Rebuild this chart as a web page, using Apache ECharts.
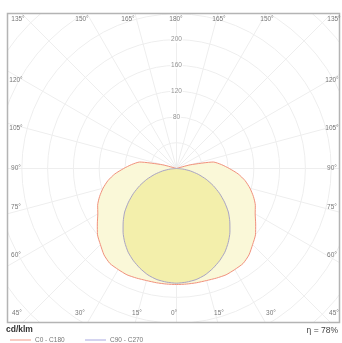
<!DOCTYPE html>
<html>
<head>
<meta charset="utf-8">
<script src="https://cdn.jsdelivr.net/npm/echarts@6/dist/echarts.min.js"></script>
<style>
  html, body { margin: 0; padding: 0; background: #fff; }
  #chart { width: 342px; height: 343px; }
</style>
</head>
<body>
<div id="chart"></div>
<script>
// gamma angles (deg) and intensities (cd/klm)
const gammaC0 = [0, 5, 10, 15, 20, 25, 30, 35, 40, 45, 50, 55, 60, 65, 70, 75, 80, 85, 90, 95, 100, 105, 110];
const c0c180 = [180, 180, 180, 180, 181, 182, 181, 180, 175, 167, 160, 150, 141, 135, 127, 118, 108, 96, 82, 70, 58, 22, 0];
const gammaC90 = [0, 5, 10, 15, 20, 25, 30, 35, 40, 45, 50, 55, 60, 65, 70, 75, 80, 85, 90];
const c90c270 = [178, 177, 175, 171, 165, 158, 150, 140, 129, 117, 105, 91, 77, 63, 49, 35, 22, 10, 0];
const ringLabels = [80, 120, 160, 200];
const angleLabelsTop = [135, 150, 165, 180, 165, 150, 135];
const angleLabelsSide = [120, 105, 90, 75, 60];
const angleLabelsBottom = [45, 30, 15, 0, 15, 30, 45];
const eta = 78;

// layout
const box = { x: 7.5, y: 13.5, w: 332, h: 309 };
const topX = [18, 82, 128, 176, 219, 267, 334];
const sideY = [80, 128, 168, 207, 255];
const bottomX = [17, 80, 137, 174, 219, 271, 334];

// left half (positive angle) then right half (negative angle)
function loop(gam, val) {
  const left = gam.map((g, i) => [val[i], g]).reverse();
  const right = gam.map((g, i) => [val[i], -g]);
  return left.concat(right.slice(1));
}

const lblStyle = { fill: '#777', fontSize: 6.5, fontFamily: 'Liberation Sans, Arial', align: 'center', verticalAlign: 'middle' };
const graphics = [
  { type: 'rect', shape: { x: 0, y: 0, width: 342, height: box.y }, style: { fill: '#fff' }, z: 50 },
  { type: 'rect', shape: { x: 0, y: 0, width: box.x, height: 343 }, style: { fill: '#fff' }, z: 50 },
  { type: 'rect', shape: { x: box.x + box.w, y: 0, width: 10, height: 343 }, style: { fill: '#fff' }, z: 50 },
  { type: 'rect', shape: { x: 0, y: box.y + box.h, width: 342, height: 30 }, style: { fill: '#fff' }, z: 50 },
  { type: 'rect', shape: { x: box.x, y: box.y, width: box.w, height: box.h }, style: { fill: 'none', stroke: '#b4b4b4', lineWidth: 1.5 }, z: 51 }
];
angleLabelsTop.forEach((a, i) => graphics.push({ type: 'text', x: topX[i], y: 19, style: Object.assign({ text: a + '°' }, lblStyle), z: 60 }));
angleLabelsBottom.forEach((a, i) => graphics.push({ type: 'text', x: bottomX[i], y: 313, style: Object.assign({ text: a + '°' }, lblStyle), z: 60 }));
angleLabelsSide.forEach((a, i) => {
  graphics.push({ type: 'text', x: 16, y: sideY[i], style: Object.assign({ text: a + '°' }, lblStyle), z: 60 });
  graphics.push({ type: 'text', x: 332, y: sideY[i], style: Object.assign({ text: a + '°' }, lblStyle), z: 60 });
});
// footer
graphics.push(
  { type: 'text', x: 6, y: 330, style: { text: 'cd/klm', fill: '#333', fontSize: 8.5, fontWeight: 'bold', fontFamily: 'Liberation Sans, Arial', verticalAlign: 'middle' }, z: 60 },
  { type: 'text', x: 338, y: 331, style: { text: 'η = ' + eta + '%', fill: '#444', fontSize: 8.5, fontFamily: 'Liberation Sans, Arial', align: 'right', verticalAlign: 'middle' }, z: 60 },
  { type: 'line', shape: { x1: 10, y1: 340, x2: 31, y2: 340 }, style: { stroke: '#f29a8a', lineWidth: 1 }, z: 60 },
  { type: 'text', x: 35, y: 340, style: { text: 'C0 - C180', fill: '#777', fontSize: 6.5, fontFamily: 'Liberation Sans, Arial', verticalAlign: 'middle' }, z: 60 },
  { type: 'line', shape: { x1: 85, y1: 340, x2: 106, y2: 340 }, style: { stroke: '#a8a8e0', lineWidth: 1 }, z: 60 },
  { type: 'text', x: 110, y: 340, style: { text: 'C90 - C270', fill: '#777', fontSize: 6.5, fontFamily: 'Liberation Sans, Arial', verticalAlign: 'middle' }, z: 60 }
);

const chart = echarts.init(document.getElementById('chart'));
chart.setOption({
  animation: false,
  polar: { center: [176.5, 168.5], radius: 232 },
  angleAxis: {
    type: 'value', min: -180, max: 180, interval: 15, startAngle: 90, clockwise: true,
    axisLine: { show: false }, axisTick: { show: false }, axisLabel: { show: false },
    splitLine: { lineStyle: { color: '#eeeeee', width: 1 } }
  },
  radiusAxis: {
    type: 'value', min: 0, max: 360, interval: 40,
    axisLine: { show: false }, axisTick: { show: false }, axisLabel: { show: false },
    splitLine: { lineStyle: { color: '#eeeeee', width: 1 } }
  },
  series: [
    {
      type: 'line', coordinateSystem: 'polar', data: loop(gammaC0, c0c180),
      symbol: 'none', smooth: 0.2, z: 3,
      lineStyle: { color: '#f0907c', width: 1 },
      areaStyle: { color: '#faf8d8', opacity: 1 }
    },
    {
      type: 'line', coordinateSystem: 'polar', data: loop(gammaC90, c90c270),
      symbol: 'none', smooth: 0.2, z: 4,
      lineStyle: { color: '#a9a4c4', width: 1 },
      areaStyle: { color: '#f3efab', opacity: 1 }
    },
    {
      type: 'scatter', coordinateSystem: 'polar', symbolSize: 1, z: 5,
      itemStyle: { color: 'rgba(0,0,0,0)' },
      data: ringLabels.map(r => [r, 180]),
      label: {
        show: true, position: 'inside', formatter: p => p.value[0],
        color: '#777', fontSize: 6.5, fontFamily: 'Liberation Sans, Arial',
        backgroundColor: '#fff', padding: [0, 1]
      }
    }
  ],
  graphic: graphics
});
</script>
</body>
</html>
